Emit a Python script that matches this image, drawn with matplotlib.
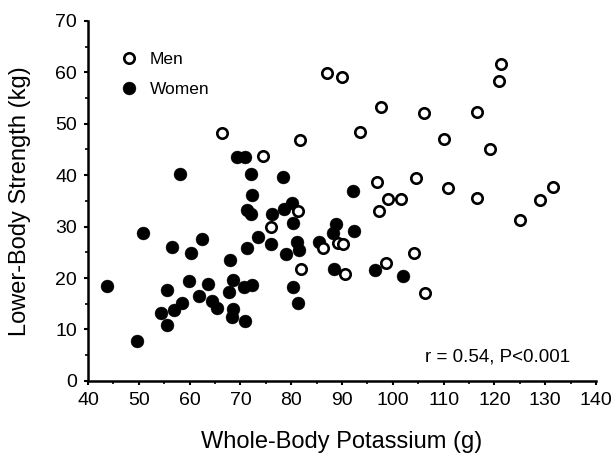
import matplotlib
matplotlib.use("Agg")
import matplotlib.pyplot as plt
from matplotlib.ticker import MultipleLocator
from matplotlib.lines import Line2D

plt.rcParams['font.family'] = ['Liberation Sans', 'DejaVu Sans']

# whole-body potassium (g) vs lower-body strength (kg)
women_k = [43.8, 49.6, 50.8, 58.1, 56.6, 60.3, 62.5, 59.9, 55.5, 54.4,
           55.5, 57.0, 58.4, 61.9, 63.6, 64.4, 65.3, 68.0, 67.8, 68.6,
           68.3, 68.6, 70.9, 70.6, 72.2, 69.3, 70.9, 72.1, 72.3, 71.2,
           72.0, 71.2, 73.5, 76.2, 76.0, 78.3, 78.6, 80.1, 80.4, 78.9,
           81.2, 81.5, 80.4, 81.4, 85.5, 88.8, 88.2, 88.5, 92.2, 92.4,
           96.5, 102.0]
women_str = [18.4, 7.8, 28.7, 40.2, 26.0, 24.8, 27.5, 19.5, 17.6, 13.3,
             10.8, 13.8, 15.1, 16.5, 18.8, 15.6, 14.1, 23.6, 17.3, 19.6,
             12.5, 13.9, 11.7, 18.3, 18.6, 43.6, 43.6, 40.3, 36.2, 33.2,
             32.4, 25.9, 27.9, 32.4, 26.6, 39.6, 33.5, 34.5, 30.7, 24.6,
             27.0, 25.4, 18.3, 15.2, 27.0, 30.5, 28.7, 21.7, 36.9, 29.2,
             21.5, 20.4]

men_k = [66.3, 74.5, 81.7, 87.1, 90.0, 93.6, 97.7, 106.1, 110.0, 116.6,
         119.2, 121.0, 121.3, 96.9, 104.5, 110.8, 116.6, 99.1, 101.6, 97.2,
         131.6, 129.0, 125.0, 81.4, 76.0, 89.2, 90.2, 86.2, 81.9, 90.6,
         98.7, 104.1, 106.3]
men_str = [48.2, 43.8, 46.8, 59.8, 59.0, 48.3, 53.2, 52.0, 47.0, 52.3,
           45.1, 58.4, 61.6, 38.7, 39.5, 37.5, 35.6, 35.3, 35.3, 33.0,
           37.7, 35.2, 31.3, 33.1, 30.0, 26.8, 26.6, 25.8, 21.7, 20.8,
           23.0, 24.9, 17.0]

stat_text = 'r = 0.54, P<0.001'


def main():
    fig = plt.figure(figsize=(6.16, 4.54), dpi=100)
    ax = fig.add_axes([0.143, 0.161, 0.8245, 0.793])

    ax.plot(women_k, women_str, 'o', color='black', ms=9.3, mew=0.3, zorder=2)
    ax.plot(men_k, men_str, 'o', mfc='white', mec='black', ms=7.5, mew=1.9, zorder=3)

    ax.set_xlim(40, 140)
    ax.set_ylim(0, 70)
    ax.xaxis.set_major_locator(MultipleLocator(10))
    ax.xaxis.set_minor_locator(MultipleLocator(5))
    ax.yaxis.set_major_locator(MultipleLocator(10))
    ax.yaxis.set_minor_locator(MultipleLocator(5))

    for s in ['top', 'right']:
        ax.spines[s].set_visible(False)
    for s in ['left', 'bottom']:
        ax.spines[s].set_linewidth(1.8)

    ax.tick_params(which='major', direction='out', length=3, width=1.5,
                   labelsize=14, pad=5)
    ax.tick_params(which='minor', direction='out', length=2, width=1.2)

    ax.set_xlabel('Whole-Body Potassium (g)', fontsize=17)
    ax.set_ylabel('Lower-Body Strength (kg)', fontsize=17)
    ax.xaxis.set_label_coords(0.5, -0.14)
    ax.yaxis.set_label_coords(-0.112, 0.5)

    ax.text(106.3, 3.7, stat_text, fontsize=13.5, ha='left', va='baseline')

    handles = [
        Line2D([], [], marker='o', ls='none', mfc='white', mec='black', ms=7.5, mew=1.9),
        Line2D([], [], marker='o', ls='none', color='black', ms=9.3, mew=0.3),
    ]
    ax.legend(handles, ['Men', 'Women'], loc='upper left', bbox_to_anchor=(0.04, 0.948),
              frameon=False, fontsize=12.5, handlelength=1.0, handletextpad=0.7,
              labelspacing=0.85, borderpad=0.2)

    fig.savefig('out.png', dpi=100, facecolor='white')


if __name__ == '__main__':
    main()
